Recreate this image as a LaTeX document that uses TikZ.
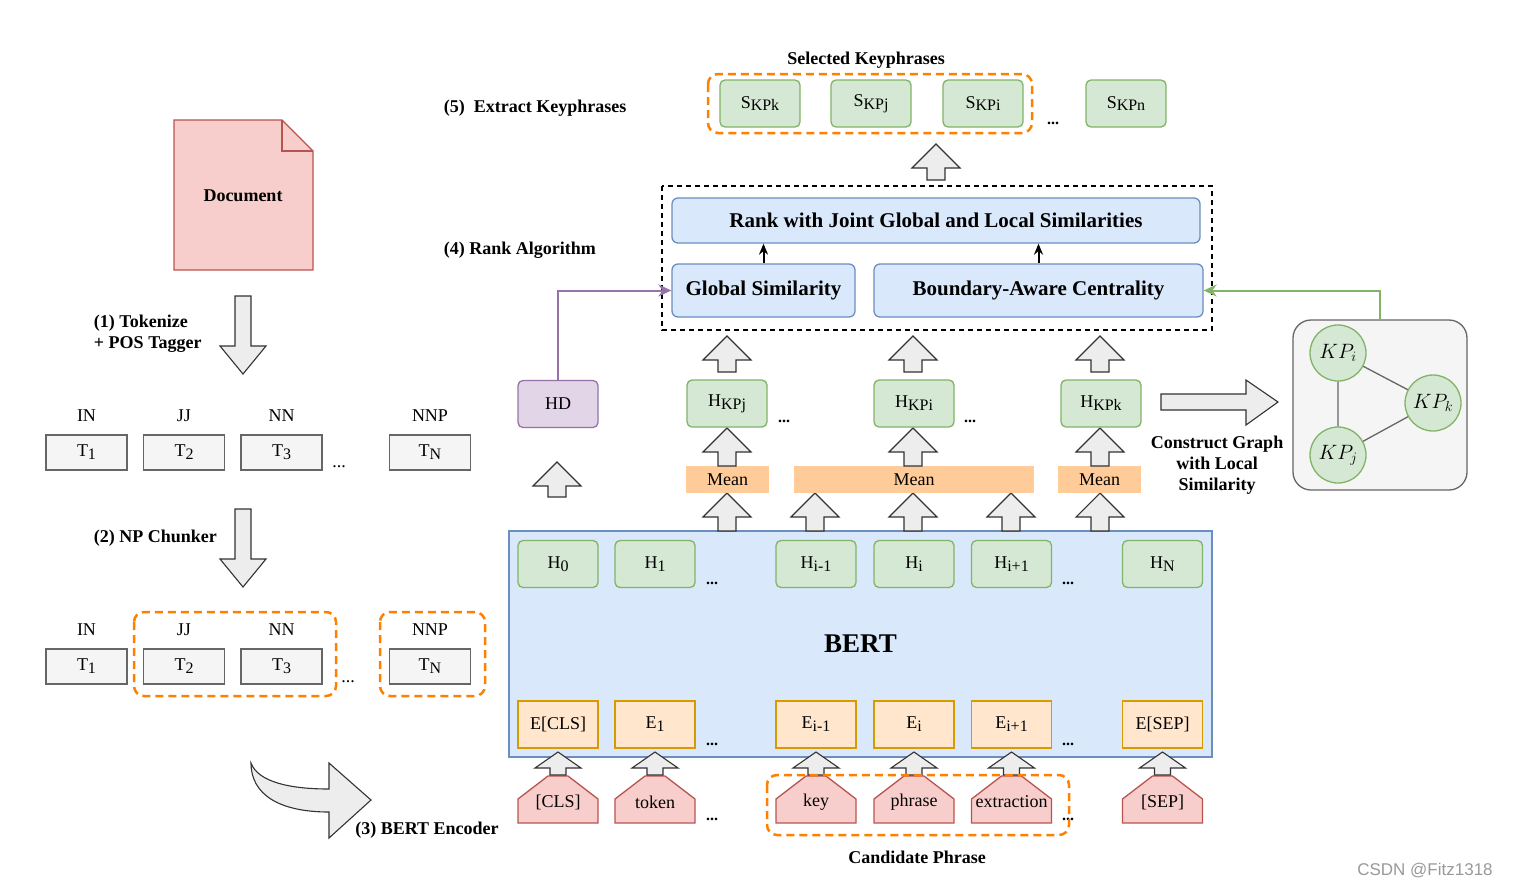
\documentclass[tikz,border=0pt]{standalone}
\usepackage{fontspec}
\setmainfont{Liberation Serif}
\newfontfamily\wmfont{Liberation Sans}
\usetikzlibrary{arrows.meta}
\definecolor{docfill}{HTML}{F8CECC}
\definecolor{docline}{HTML}{B85450}
\definecolor{hfill}{HTML}{D5E8D4}
\definecolor{hline}{HTML}{82B366}
\definecolor{efill}{HTML}{FFE6CC}
\definecolor{eline}{HTML}{D79B00}
\definecolor{meanfill}{HTML}{FFCC99}
\definecolor{bertfill}{HTML}{DAE8FC}
\definecolor{bertline}{HTML}{6C8EBF}
\definecolor{hdfill}{HTML}{E1D5E7}
\definecolor{hdline}{HTML}{9673A6}
\definecolor{chunk}{HTML}{FF8000}
\newcommand{\lowsub}[1]{\raisebox{-0.35ex}{\fontsize{16}{16}\selectfont #1}}
% x, tip y, tail y, head base y, half head, half shaft
\newcommand{\vblock}[6]{\draw[blockarr] ({#1-#6},#3) -- ({#1-#6},#4) -- ({#1-#5},#4) -- (#1,#2) -- ({#1+#5},#4) -- ({#1+#6},#4) -- ({#1+#6},#3) -- cycle;}
\begin{document}
\begin{tikzpicture}[x=1pt, y=-1pt, line width=1.3pt,
txt/.style={font=\fontsize{18}{21}\selectfont},
bold/.style={font=\fontsize{18}{21}\selectfont\bfseries},
big/.style={font=\fontsize{21}{24}\selectfont\bfseries},
dots/.style={font=\fontsize{16}{16}\selectfont\bfseries, anchor=base, inner sep=0pt},
every label/.style={font=\fontsize{18}{21}\selectfont, yshift=9pt},
tok/.style={draw=black!60, fill=black!4, minimum width=81pt, minimum height=35pt, inner sep=0pt, txt},
hbox/.style={draw=hline, fill=hfill, rounded corners=5pt, minimum width=80pt, minimum height=47pt, inner sep=0pt, txt},
ebox/.style={draw=eline, fill=efill, minimum width=80pt, minimum height=47pt, inner sep=0pt, txt},
meanbox/.style={fill=meanfill, minimum height=27pt, inner sep=0pt, txt},
bluebox/.style={draw=bertline, fill=bertfill, rounded corners=6pt, inner sep=0pt, big},
kpnode/.style={circle, draw=hline, fill=hfill, minimum size=56pt, inner sep=0pt, font=\fontsize{20}{22}\selectfont},
chunkbox/.style={draw=chunk, line width=2.5pt, dash pattern=on 8pt off 5pt, rounded corners=10pt},
blockarr/.style={draw=black!80, fill=black!7, line width=1.1pt},
house/.style={draw=docline, fill=docfill},
smalltip/.style={-{Stealth[length=11pt,width=9pt]}, line width=2pt},
sidetip/.style={-{Stealth[length=13pt,width=12pt]}, line width=2pt}]
\useasboundingbox (0,0) rectangle (1514,887);

% document
\draw[draw=docline, fill=docfill] (174,120) -- (282,120) -- (313,151) -- (313,270) -- (174,270) -- cycle;
\draw[draw=docline] (282,120) -- (282,151) -- (313,151);
\node[bold] (doc) at (243,196) {Document};

% (1) and (2)
\vblock{243}{374}{296}{346}{23}{8}
\node[bold, anchor=west, align=left] (step1) at (90,334) {(1) Tokenize\\+ POS Tagger};
\vblock{243}{587}{509}{559}{23}{8}
\node[bold, anchor=west] (step2) at (90,538) {(2) NP Chunker};

\foreach \row/\y in {a/452.5, b/666.5} {
  \node[tok, label=above:IN] (\row1) at (86.5,\y) {T\lowsub{1}};
  \node[tok, label=above:JJ] (\row2) at (184,\y) {T\lowsub{2}};
  \node[tok, label=above:NN] (\row3) at (281.5,\y) {T\lowsub{3}};
  \node[tok, label=above:NNP] (\row4) at (430,\y) {T\lowsub{N}};
}
\node[txt, anchor=base, inner sep=0pt] (adots) at (339,467) {...};
\node[txt, anchor=base, inner sep=0pt] (bdots) at (348,682) {...};
\draw[chunkbox] (134,612) rectangle (336,696);
\draw[chunkbox] (380,612) rectangle (485,696);

% (3)
\draw[blockarr] (251,763) .. controls (258,782) and (290,789) .. (329,789) -- (329,763) -- (371,800) -- (329,838) -- (329,812) .. controls (280,812) and (251,795) .. (251,763) -- cycle;
\node[bold] (step3) at (427,830) {(3) BERT Encoder};

% BERT
\node[draw=bertline, fill=bertfill, minimum width=703pt, minimum height=226pt, font=\fontsize{27}{30}\selectfont\bfseries] (bert) at (860.5,644) {BERT};
\foreach \n/\x/\lab in {0/558/0, 1/655/1, 2/816/i-1, 3/914/i, 4/1011.5/i+1, 5/1162.5/N} {
  \node[hbox] (h\n) at (\x,564) {H\lowsub{\lab}};
}
\foreach \n/\x/\lab in {0/558/E[CLS], 1/655/E\lowsub{1}, 2/816/E\lowsub{i-1}, 3/914/E\lowsub{i}, 4/1011.5/E\lowsub{i+1}, 5/1162.5/E[SEP]} {
  \node[ebox] (e\n) at (\x,724.5) {\lab};
}
\foreach \n/\x/\lab in {0/558/[CLS], 1/655/token, 2/816/key, 3/914/phrase, 4/1011.5/extraction, 5/1162.5/[SEP]} {
  \draw[house] ({\x-40},823) -- ({\x-40},799) -- ({\x-10},776) -- ({\x+10},776) -- ({\x+40},799) -- ({\x+40},823) -- cycle;
  \node[txt] (w\n) at (\x,802) {\lab};
  \vblock{\x}{752}{775}{768}{23}{8}
}
\foreach \n/\x/\y in {1/712/582, 2/1068/582, 3/712/743, 4/1068/743, 5/712/818, 6/1068/818, 7/784/420, 8/970/420, 9/1053/122} {
  \node[dots] (dots\n) at (\x,\y+2) {...};
}
\draw[chunkbox] (767,775) rectangle (1069,835);
\node[bold] (cand) at (917,857) {Candidate Phrase};

% mean and phrase embeddings
\foreach \x in {727,815,913,1011,1100} {
  \vblock{\x}{493}{531}{517}{24}{9}
}
\node[meanbox, minimum width=83pt] (mean1) at (727.5,479.5) {Mean};
\node[meanbox, minimum width=240pt] (mean2) at (914,479.5) {Mean};
\node[meanbox, minimum width=83pt] (mean3) at (1099.5,479.5) {Mean};
\foreach \x in {727,913,1100} {
  \vblock{\x}{428}{466}{452}{24}{9}
  \vblock{\x}{336}{372}{360}{24}{9}
}
\node[hbox] (hkpj) at (727,403.5) {H\lowsub{KPj}};
\node[hbox] (hkpi) at (914,403.5) {H\lowsub{KPi}};
\node[hbox] (hkpk) at (1101,403.5) {H\lowsub{KPk}};
\node[hbox, draw=hdline, fill=hdfill] (hd) at (558,404) {HD};
\vblock{557}{462}{497}{486}{24}{9}

% (4) rank
\draw[dash pattern=on 5pt off 4pt, line width=1.3pt] (662,186) rectangle (1212,330);
\node[bluebox, minimum width=528pt, minimum height=45pt] (rank) at (936,220.5) {Rank with Joint Global and Local Similarities};
\node[bluebox, minimum width=183pt, minimum height=53pt] (gs) at (763.5,290.5) {Global Similarity};
\node[bluebox, minimum width=329pt, minimum height=53pt] (bac) at (1038.5,290.5) {Boundary-Aware Centrality};
\draw[smalltip] (gs.north) -- (gs.north |- rank.south);
\draw[smalltip] (bac.north) -- (bac.north |- rank.south);
\draw[hdline, sidetip] (hd.north) |- (gs.west);
\node[bold, anchor=west] (step4) at (440,250) {(4) Rank Algorithm};

% graph
\draw[blockarr] (1161,394) -- (1246,394) -- (1246,380) -- (1278,402) -- (1246,425) -- (1246,410) -- (1161,410) -- cycle;
\node[bold, align=center] (cg) at (1217,465) {Construct Graph\\with Local\\Similarity};
\node[draw=black!60, fill=black!4, rounded corners=18pt, minimum width=174pt, minimum height=170pt] (graphbox) at (1380,405) {};
\node[kpnode] (kpi) at (1338,353) {$KP_i$};
\node[kpnode] (kpk) at (1433,403) {$KP_k$};
\node[kpnode] (kpj) at (1338,455) {$KP_j$};
\draw[black!60] (kpi) -- (kpk) (kpi) -- (kpj) (kpj) -- (kpk);
\draw[hline, sidetip] (graphbox.north) |- (bac.east);

% (5) extract
\vblock{936}{144}{180}{168}{24}{9}
\node[bold, anchor=west] (step5) at (440,108) {(5)~~Extract Keyphrases};
\node[bold] (sel) at (866,60) {Selected Keyphrases};
\node[hbox] (skpk) at (760,103.5) {S\lowsub{KPk}};
\node[hbox] (skpj) at (871,103.5) {S\lowsub{KPj}};
\node[hbox] (skpi) at (983,103.5) {S\lowsub{KPi}};
\node[hbox] (skpn) at (1126,103.5) {S\lowsub{KPn}};
\draw[chunkbox] (708,74) rectangle (1032,133);

\node[font=\wmfont\fontsize{17}{20}\selectfont, text=black!40] (wm) at (1425,870) {CSDN @Fitz1318};
\end{tikzpicture}
\end{document}
